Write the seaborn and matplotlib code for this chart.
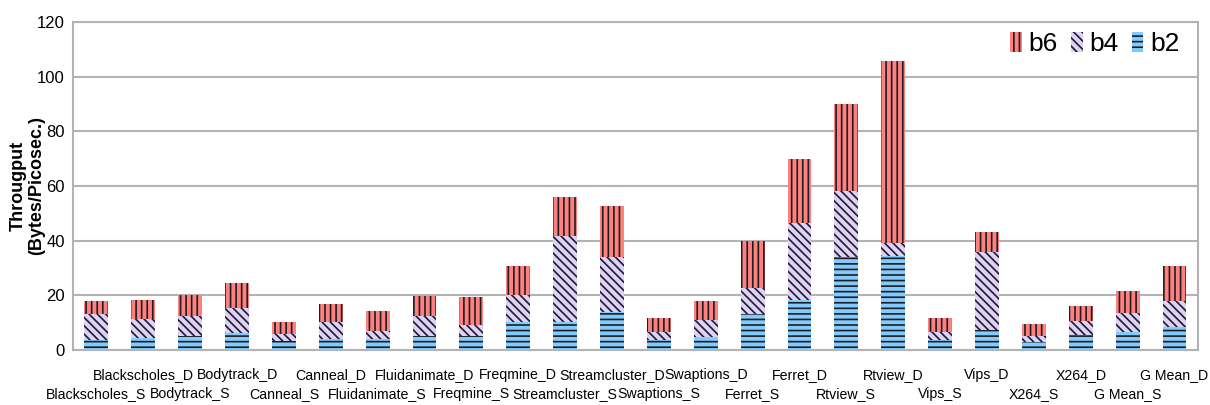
import numpy as np
import pandas as pd
import seaborn as sns
import matplotlib.pyplot as plt
from matplotlib.patches import Patch

benchmarks = ["Blackscholes_S", "Blackscholes_D", "Bodytrack_S", "Bodytrack_D",
              "Canneal_S", "Canneal_D", "Fluidanimate_S", "Fluidanimate_D",
              "Freqmine_S", "Freqmine_D", "Streamcluster_S", "Streamcluster_D",
              "Swaptions_S", "Swaptions_D", "Ferret_S", "Ferret_D",
              "Rtview_S", "Rtview_D", "Vips_S", "Vips_D",
              "X264_S", "X264_D", "G Mean_S", "G Mean_D"]
# segment values
b2 = [3.7, 4.5, 5.1, 6.2, 3.3, 4.1, 4.0, 5.2, 5.2, 10.2, 10.2, 13.9,
      3.7, 4.8, 13.2, 18.3, 34.0, 34.4, 3.7, 7.3, 2.9, 5.5, 6.6, 8.4]
b4 = [9.5, 6.8, 7.5, 9.3, 2.7, 6.3, 3.0, 7.4, 3.9, 9.9, 31.6, 20.1,
      2.9, 6.3, 9.6, 28.2, 24.2, 4.7, 2.9, 28.6, 2.3, 5.1, 6.9, 9.5]
b6 = [4.7, 7.0, 7.5, 9.0, 4.2, 6.4, 7.3, 7.2, 10.3, 10.6, 14.2, 18.7,
      5.1, 6.8, 17.1, 23.4, 31.8, 66.6, 5.1, 7.3, 4.3, 5.5, 8.1, 12.8]

df = pd.DataFrame({"bench": benchmarks, "b2": b2, "b4": b4, "b6": b6})
df["lvl2"] = df["b2"]
df["lvl4"] = df["b2"] + df["b4"]
df["lvl6"] = df["b2"] + df["b4"] + df["b6"]

sns.set_style("white")
plt.rcParams["font.family"] = ["Liberation Sans", "DejaVu Sans"]
plt.rcParams["hatch.linewidth"] = 1.2

fig, ax = plt.subplots(figsize=(12.1, 4.05), dpi=100)
fig.subplots_adjust(left=0.0603, right=0.990, bottom=0.1358, top=0.9457)

red, lav, blue = "#ff8080", "#ddd0fa", "#83caff"
hcol = "#1e1e1e"
layers = [("lvl6", red, "|||"), ("lvl4", lav, "\\\\\\\\"), ("lvl2", blue, "---")]
for col, c, h in layers:
    sns.barplot(data=df, x="bench", y=col, color=c, width=0.51, ax=ax,
                saturation=1, hatch=h, edgecolor=hcol, linewidth=0, zorder=3)

ax.set_ylim(0, 120)
ax.set_xlim(-0.5, len(benchmarks) - 0.5)
ax.set_yticks(range(0, 121, 20))
ax.yaxis.grid(True, color="#b3b3b3", linewidth=1.5, zorder=0)
ax.set_axisbelow(True)
for s in ax.spines.values():
    s.set_color("#b3b3b3")
    s.set_linewidth(1.5)

# staggered labels: _S on the lower row, _D on the upper row
labels = [("\n" + b if i % 2 == 0 else b) for i, b in enumerate(benchmarks)]
ax.set_xticks(range(len(benchmarks)))
ax.set_xticklabels(labels, fontsize=10.2, color="black", linespacing=1.48)
ax.set_xticks(np.arange(-0.5, len(benchmarks)), minor=True)
ax.tick_params(axis="x", which="major", length=0, pad=13)
ax.tick_params(axis="x", which="minor", length=8, width=1.5, color="#b3b3b3")
ax.tick_params(axis="y", labelsize=12, labelcolor="black", length=0, pad=6)
ax.set_xlabel("")
ax.set_ylabel("Througput\n(Bytes/Picosec.)", fontsize=13, fontweight="bold",
              color="black", linespacing=1.1)
ax.yaxis.set_label_coords(-0.025, 0.5)

handles = [Patch(facecolor=red, hatch="|||", edgecolor=hcol, linewidth=0),
           Patch(facecolor=lav, hatch="\\\\\\\\", edgecolor=hcol, linewidth=0),
           Patch(facecolor=blue, hatch="---", edgecolor=hcol, linewidth=0)]
leg = ax.legend(handles, ["b6", "b4", "b2"], ncol=3, loc="upper right",
                fontsize=19, handlelength=0.45, handleheight=0.75, handletextpad=0.25,
                columnspacing=0.5, frameon=False, bbox_to_anchor=(1.0, 1.025),
                borderpad=0.2, labelcolor="black")

fig.savefig("out.png", dpi=100)
